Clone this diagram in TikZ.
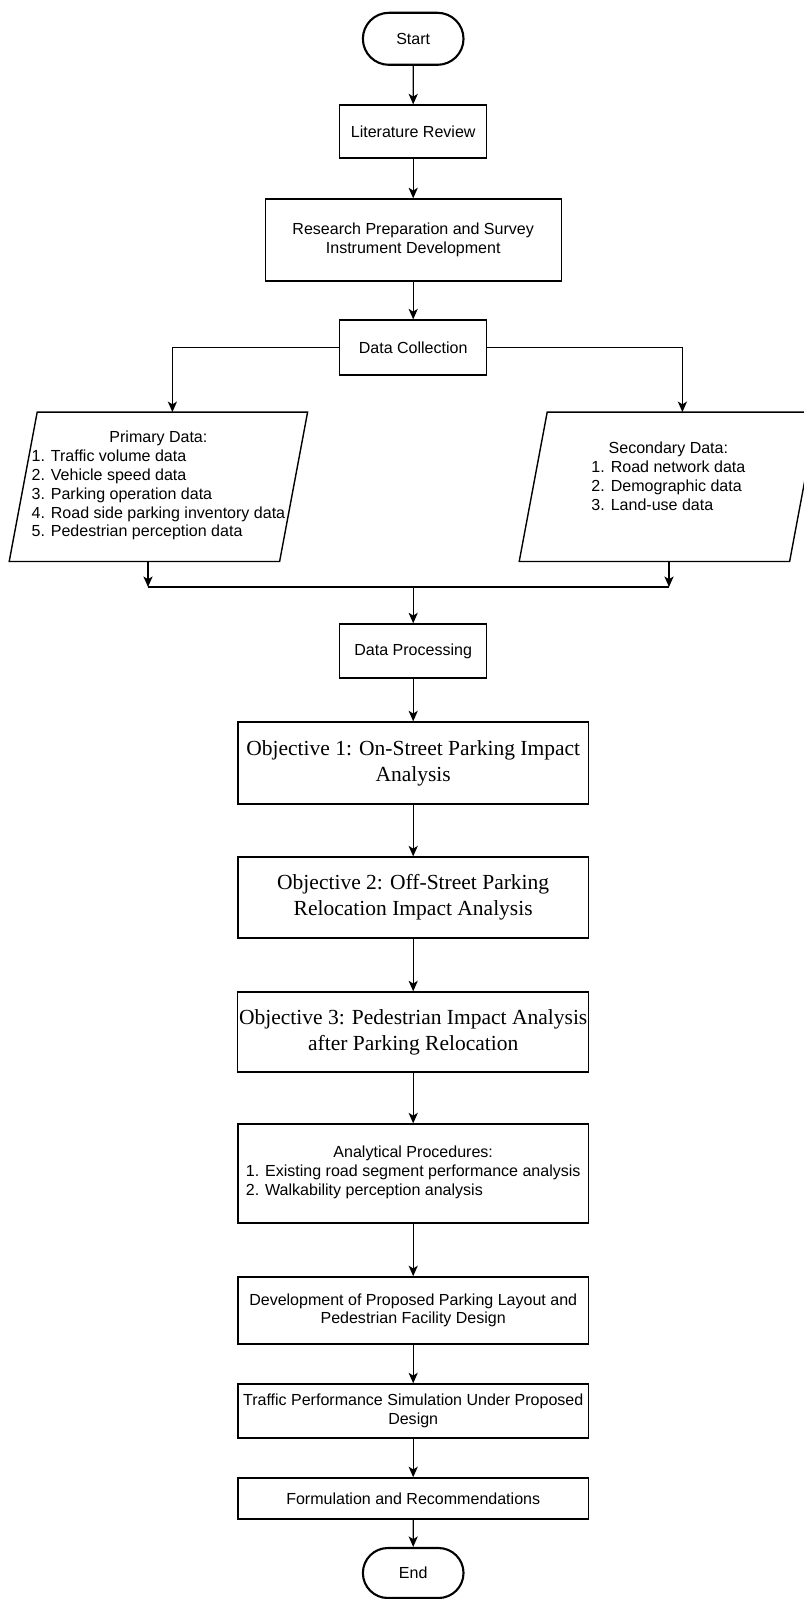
\documentclass[tikz,border=0pt]{standalone}
\usepackage{fontspec}
\setmainfont{Liberation Sans}
\newfontfamily\objfont{Liberation Serif}
\usetikzlibrary{arrows.meta, positioning, shapes.misc}

\begin{document}
\begin{tikzpicture}[
    line width=1pt,
    >={Stealth[length=7.5pt, width=6.5pt, inset=2pt]},
    flow text/.style={font=\fontsize{11.4}{13.4}\selectfont, align=center},
    proc box/.style={draw, flow text, inner sep=1pt, minimum width=3.675cm, minimum height=1.35cm},
    wide box/.style={proc box, minimum width=8.75cm},
    obj box/.style={wide box, font=\objfont\fontsize{15.3}{18.6}\selectfont},
    term/.style={draw, rounded rectangle, line width=1.5pt, flow text, minimum width=2.75cm, minimum height=1.3cm},
    data io/.style={minimum width=7.425cm, minimum height=3.7cm, inner sep=0pt}
]
    \useasboundingbox (0,0) rectangle (20.1,-39.975);

    % Start and preparation steps
    \node[term] (start) at (10.33,-0.97) {Start};
    \node[proc box, minimum height=1.325cm] (lit_rev) at (10.33,-3.29) {Literature Review};
    \node[proc box, minimum width=7.4cm, minimum height=2.05cm] (prep) at (10.33,-6.0)
        {Research Preparation and Survey\\Instrument Development};
    \node[proc box, minimum height=1.375cm] (collect) at (10.33,-8.69) {Data Collection};

    % Data inputs (slanted by 7mm)
    \node[data io] (prim_data) at (3.96,-12.17) {};
    \draw ([xshift=7mm]prim_data.north west) -- (prim_data.north east)
        -- ([xshift=-7mm]prim_data.south east) -- (prim_data.south west) -- cycle;
    \node[flow text] (prim_text) at (prim_data.center) {Primary Data:\\
        \begin{tabular}[t]{@{}l@{}}
            1. Traffic volume data\\
            2. Vehicle speed data\\
            3. Parking operation data\\
            4. Road side parking inventory data\\
            5. Pedestrian perception data
        \end{tabular}};
    \node[data io] (sec_data) at (16.71,-12.17) {};
    \draw ([xshift=7mm]sec_data.north west) -- (sec_data.north east)
        -- ([xshift=-7mm]sec_data.south east) -- (sec_data.south west) -- cycle;
    \node[flow text] (sec_text) at ([yshift=0.2cm]sec_data.center) {Secondary Data:\\
        \begin{tabular}[t]{@{}l@{}}
            1. Road network data\\
            2. Demographic data\\
            3. Land-use data
        \end{tabular}};

    % Join of the two inputs
    \coordinate (join_l) at (3.7,-14.675);
    \coordinate (join_r) at (16.725,-14.675);
    \coordinate (join_c) at (10.33,-14.675);

    % Processing and objectives
    \node[proc box] (proc) at (10.33,-16.275) {Data Processing};
    \node[obj box, minimum height=2.05cm] (obj1) at (10.33,-19.075)
        {Objective 1: On-Street Parking Impact\\Analysis};
    \node[obj box, minimum height=2.025cm] (obj2) at (10.33,-22.44)
        {Objective 2: Off-Street Parking\\Relocation Impact Analysis};
    \node[obj box, minimum height=2.0cm] (obj3) at (10.33,-25.8)
        {Objective 3: Pedestrian Impact Analysis\\after Parking Relocation};

    % Analysis and design steps
    \node[wide box, minimum height=2.475cm] (analyt) at (10.33,-29.34) {Analytical Procedures:\\
        \begin{tabular}[t]{@{}l@{}}
            1. Existing road segment performance analysis\\
            2. Walkability perception analysis
        \end{tabular}};
    \node[wide box, minimum height=1.675cm] (layout) at (10.33,-32.76)
        {Development of Proposed Parking Layout and\\Pedestrian Facility Design};
    \node[wide box] (sim) at (10.33,-35.275)
        {Traffic Performance Simulation Under Proposed\\Design};
    \node[wide box, minimum height=1.025cm] (recom) at (10.33,-37.46) {Formulation and Recommendations};
    \node[term, minimum height=1.25cm] (finish) at (10.33,-39.325) {End};

    % Connectors
    \draw[->] (start) -- (lit_rev);
    \draw[->] (lit_rev) -- (prep);
    \draw[->] (prep) -- (collect);
    \draw[->] (collect.west) -| ([xshift=3.5mm]prim_data.north);
    \draw[->] (collect.east) -| ([xshift=3.5mm]sec_data.north);
    \draw[->] (prim_data.south -| join_l) -- (join_l);
    \draw[->] (sec_data.south -| join_r) -- (join_r);
    \draw (join_l) -- (join_r);
    \draw[->] (join_c) -- (proc);
    \draw[->] (proc) -- (obj1);
    \draw[->] (obj1) -- (obj2);
    \draw[->] (obj2) -- (obj3);
    \draw[->] (obj3) -- (analyt);
    \draw[->] (analyt) -- (layout);
    \draw[->] (layout) -- (sim);
    \draw[->] (sim) -- (recom);
    \draw[->] (recom) -- (finish);
\end{tikzpicture}
\end{document}
